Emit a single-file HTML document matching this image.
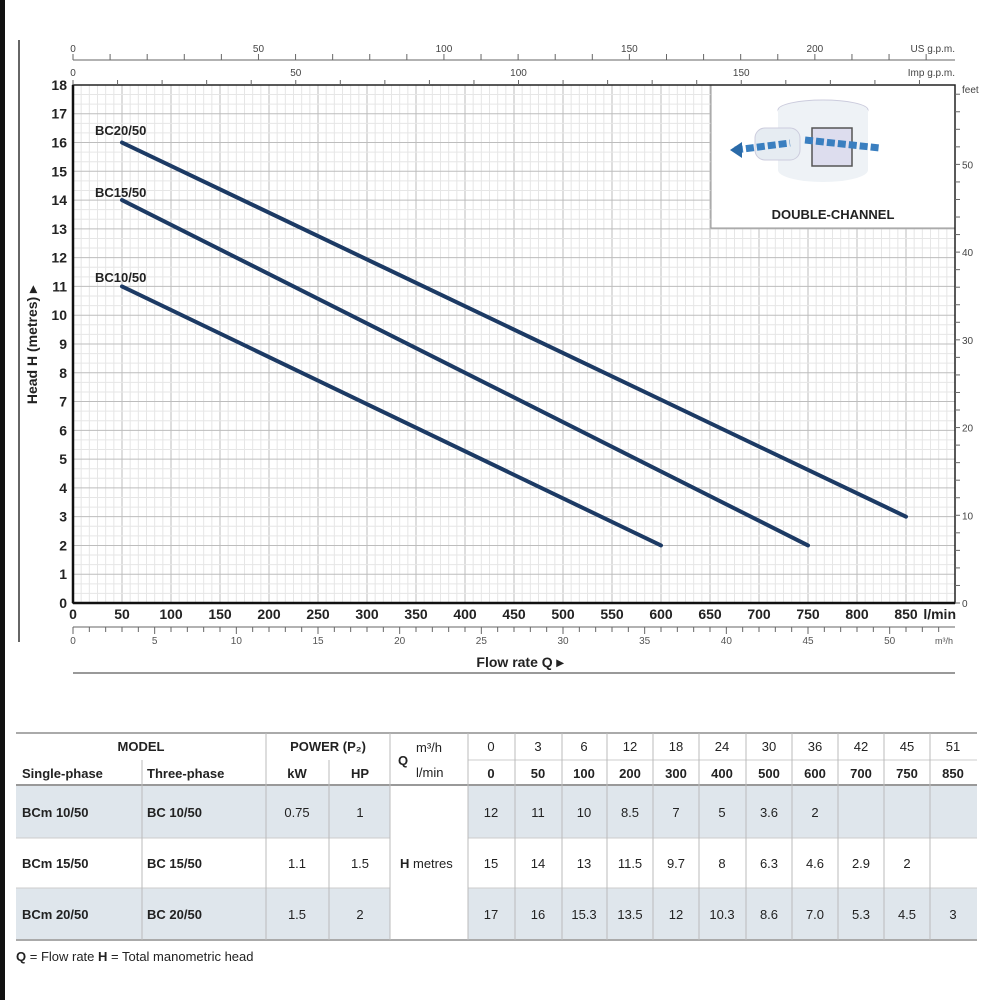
<!DOCTYPE html>
<html><head><meta charset="utf-8"><style>
body{margin:0;background:#fff;width:1000px;height:1000px;overflow:hidden;font-family:"Liberation Sans",sans-serif}
svg{position:absolute;left:0;top:0}
</style></head><body>
<svg id="s" width="1000" height="1000" xmlns="http://www.w3.org/2000/svg" font-family="Liberation Sans, sans-serif"></svg>
<script>
const s=document.getElementById('s');let h='';
const X0=73,X1=955,Y0=603,YT=85;
const px=q=>X0+q*0.98, py=m=>Y0-m*28.78;
h+='<rect x="0" y="0" width="5" height="1000" fill="#111"/>';
h+='<line x1="19" y1="40" x2="19" y2="642" stroke="#666" stroke-width="2"/>';
for(let i=0;i<=108;i++){const x=px(i*50/6);if(x>X1)break;const maj=i%6==0;h+=`<line x1="${x}" y1="${YT}" x2="${x}" y2="${Y0}" stroke="${maj?'#bdbdbd':'#e6e6e6'}" stroke-width="1"/>`;}
for(let i=0;i<=54;i++){const y=py(i/3);const maj=i%3==0;h+=`<line x1="${X0}" y1="${y}" x2="${X1}" y2="${y}" stroke="${maj?'#bdbdbd':'#e6e6e6'}" stroke-width="1"/>`;}
h+='<rect x="711" y="85" width="244" height="143" fill="#fff" stroke="#999" stroke-width="1"/>';
h+='<ellipse cx="823" cy="110" rx="45" ry="10" fill="#eef2f6" stroke="#ccd"/><rect x="778" y="110" width="90" height="60" fill="#eef2f6"/><ellipse cx="823" cy="170" rx="45" ry="12" fill="#eef2f6"/>';
h+='<rect x="755" y="128" width="45" height="32" rx="10" fill="#e6ecf2" stroke="#ccd"/>';
h+='<rect x="812" y="128" width="40" height="38" fill="#dde" stroke="#555" stroke-width="1.5"/>';
h+='<path d="M735 150 L790 143 M805 140 L880 148" stroke="#3a7fc0" stroke-width="7" stroke-dasharray="8 3"/><polygon points="730,150 742,142 742,158" fill="#2a6aa8"/>';
h+='<text x="833" y="219" font-size="13" font-weight="bold" text-anchor="middle" fill="#222">DOUBLE-CHANNEL</text>';
h+=`<rect x="${X0}" y="${YT}" width="${X1-X0}" height="${Y0-YT}" fill="none" stroke="#222" stroke-width="1.5"/>`;
h+=`<line x1="${X0}" y1="${YT}" x2="${X0}" y2="${Y0}" stroke="#111" stroke-width="2.5"/><line x1="${X0}" y1="${Y0}" x2="${X1}" y2="${Y0}" stroke="#111" stroke-width="2.5"/>`;
for(let m=0;m<=18;m++)h+=`<text x="67" y="${py(m)+5}" font-size="14" font-weight="bold" text-anchor="end" fill="#222">${m}</text>`;
h+='<text transform="translate(37,345) rotate(-90)" font-size="14" font-weight="bold" text-anchor="middle" fill="#222">Head H (metres) ▸</text>';
for(let q=0;q<=850;q+=50)h+=`<text x="${px(q)}" y="619" font-size="14" font-weight="bold" text-anchor="middle" fill="#222">${q}</text>`;
h+='<text x="956" y="619" font-size="14" font-weight="bold" text-anchor="end" fill="#222">l/min</text>';
h+=`<line x1="${X0}" y1="627" x2="${X1}" y2="627" stroke="#666"/>`;
for(let i=0;i<=53;i++){const x=px(i*1000/60);if(x>X1)break;h+=`<line x1="${x}" y1="627" x2="${x}" y2="${i%5==0?634:632}" stroke="#666"/>`;if(i%5==0)h+=`<text x="${x}" y="644" font-size="10" text-anchor="middle" fill="#555">${i}</text>`;}
h+='<text x="953" y="644" font-size="9" text-anchor="end" fill="#555">m³/h</text>';
h+='<line x1="73" y1="673" x2="955" y2="673" stroke="#999" stroke-width="2"/>';
h+='<text x="520" y="667" font-size="14" font-weight="bold" text-anchor="middle" fill="#222">Flow rate Q ▸</text>';
h+=`<line x1="${X0}" y1="60" x2="${X1}" y2="60" stroke="#666"/>`;
for(let g=0;g<=240;g+=10){const x=px(g*3.785);if(x>X1)break;h+=`<line x1="${x}" y1="54" x2="${x}" y2="60" stroke="#666"/>`;if(g%50==0)h+=`<text x="${x}" y="52" font-size="10" text-anchor="middle" fill="#444">${g}</text>`;}
h+='<text x="955" y="52" font-size="10" text-anchor="end" fill="#444">US g.p.m.</text>';
for(let g=0;g<=200;g+=10){const x=px(g*4.546);if(x>X1)break;h+=`<line x1="${x}" y1="80" x2="${x}" y2="85" stroke="#666"/>`;if(g%50==0)h+=`<text x="${x}" y="76" font-size="10" text-anchor="middle" fill="#444">${g}</text>`;}
h+='<text x="955" y="76" font-size="10" text-anchor="end" fill="#444">Imp g.p.m.</text>';
for(let f=0;f<=58;f+=2){const y=Y0-f*0.3048*28.78;if(y<YT)break;h+=`<line x1="${X1}" y1="${y}" x2="960" y2="${y}" stroke="#666"/>`;if(f%10==0)h+=`<text x="962" y="${y+4}" font-size="10" fill="#444">${f}</text>`;}
h+='<text x="962" y="93" font-size="10" fill="#444">feet</text>';
const C=[[[50,16],[850,3]],[[50,14],[750,2]],[[50,11],[600,2]]];
for(const c of C)h+=`<polyline points="${c.map(p=>px(p[0])+','+py(p[1])).join(' ')}" fill="none" stroke="#1c3a64" stroke-width="4" stroke-linecap="round"/>`;
h+='<text x="95" y="135" font-size="13" font-weight="bold" fill="#222">BC20/50</text><text x="95" y="197" font-size="13" font-weight="bold" fill="#222">BC15/50</text><text x="95" y="282" font-size="13" font-weight="bold" fill="#222">BC10/50</text>';
const sh='#dfe6ec';
h+='<rect x="16" y="786" width="961" height="52" fill="'+sh+'"/><rect x="16" y="888" width="961" height="52" fill="'+sh+'"/><rect x="390" y="786" width="78" height="154" fill="#fff"/>';
h+='<line x1="16" y1="733" x2="977" y2="733" stroke="#aaa" stroke-width="2"/><line x1="16" y1="785" x2="977" y2="785" stroke="#999" stroke-width="2"/><line x1="16" y1="940" x2="977" y2="940" stroke="#aaa" stroke-width="2"/>';
h+='<line x1="468" y1="760" x2="977" y2="760" stroke="#ccc"/><line x1="16" y1="838" x2="390" y2="838" stroke="#ccc"/><line x1="468" y1="838" x2="977" y2="838" stroke="#ccc"/><line x1="16" y1="888" x2="390" y2="888" stroke="#ccc"/><line x1="468" y1="888" x2="977" y2="888" stroke="#ccc"/>';
const vl=[[142,760],[266,733],[329,760],[390,733],[468,733],[515,733],[562,733],[607,733],[653,733],[699,733],[746,733],[792,733],[838,733],[884,733],[930,733]];
for(const[v,t]of vl)h+=`<line x1="${v}" y1="${t}" x2="${v}" y2="940" stroke="#bbb"/>`;
const T=(x,y,t,o='')=>h+=`<text x="${x}" y="${y}" font-size="13" fill="#222" ${o}>${t}</text>`;
T(141,751,'MODEL','font-weight="bold" text-anchor="middle"');T(328,751,'POWER (P₂)','font-weight="bold" text-anchor="middle"');
T(22,778,'Single-phase','font-weight="bold"');T(147,778,'Three-phase','font-weight="bold"');
T(297,778,'kW','font-weight="bold" text-anchor="middle"');T(360,778,'HP','font-weight="bold" text-anchor="middle"');
T(398,765,'Q','font-weight="bold" font-size="14"');T(416,752,'m³/h','font-size="11"');T(416,777,'l/min','font-size="11"');
const cx=[491,538,584,630,676,722,769,815,861,907,953];
const m3=[0,3,6,12,18,24,30,36,42,45,51],lm=[0,50,100,200,300,400,500,600,700,750,850];
cx.forEach((x,i)=>{T(x,751,m3[i],'text-anchor="middle" font-size="12"');T(x,778,lm[i],'text-anchor="middle" font-weight="bold" font-size="12"');});
const rows=[[817,'BCm 10/50','BC 10/50','0.75','1',[12,11,10,8.5,7,5,3.6,2]],[868,'BCm 15/50','BC 15/50','1.1','1.5',[15,14,13,11.5,9.7,8,6.3,4.6,2.9,2]],[919,'BCm 20/50','BC 20/50','1.5','2',[17,16,15.3,13.5,12,10.3,8.6,'7.0',5.3,4.5,3]]];
for(const r of rows){T(22,r[0],r[1],'font-weight="bold"');T(147,r[0],r[2],'font-weight="bold"');T(297,r[0],r[3],'text-anchor="middle"');T(360,r[0],r[4],'text-anchor="middle"');r[5].forEach((v,i)=>T(cx[i],r[0],v,'text-anchor="middle" font-size="12"'));}
T(400,868,'<tspan font-weight="bold">H</tspan>  metres','font-size="12"');
T(16,961,'<tspan font-weight="bold">Q</tspan> = Flow rate   <tspan font-weight="bold">H</tspan> = Total manometric head','font-size="10"');
s.innerHTML=h;
</script>
</body></html>
